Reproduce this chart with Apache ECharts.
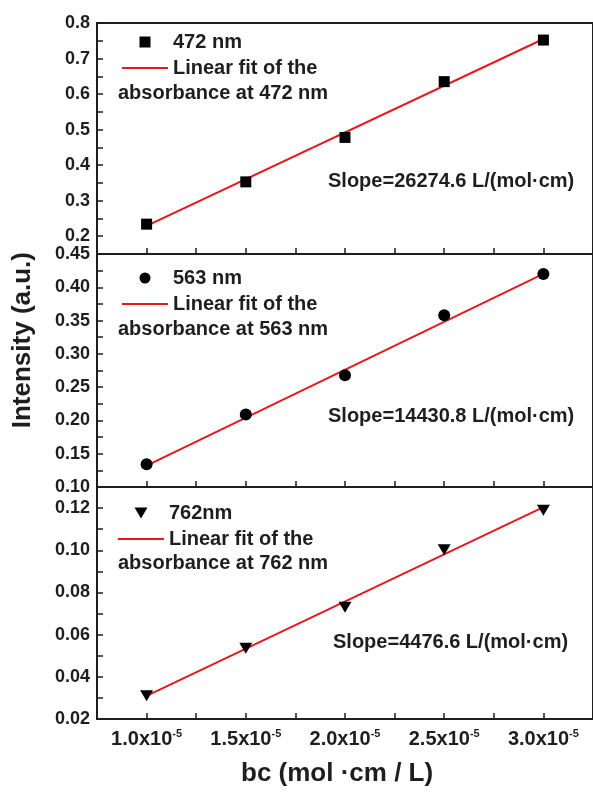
<!DOCTYPE html>
<html>
<head>
<meta charset="utf-8">
<script src="https://cdn.jsdelivr.net/npm/echarts@6/dist/echarts.min.js"></script>
<style>
    html, body { margin: 0; padding: 0; background: #fff; }
    #chart { width: 593px; height: 792px; }
</style>
</head>
<body>
<div id="chart"></div>
<script>
// bc values (mol·cm/L)
const bc = [1.0e-5, 1.5e-5, 2.0e-5, 2.5e-5, 3.0e-5];
const bcTicks = [1.0e-5, 1.5e-5, 2.0e-5, 2.5e-5, 3.0e-5];

// absorbance
const abs472 = [0.234, 0.353, 0.478, 0.635, 0.752];
const abs563 = [0.134, 0.209, 0.268, 0.358, 0.420];
const abs762 = [0.031, 0.0535, 0.073, 0.1003, 0.119];

// linear fit, value at first and last bc
const fit472 = [0.229, 0.755];
const fit563 = [0.132, 0.420];
const fit762 = [0.031, 0.1205];

const slopes = ['26274.6', '14430.8', '4476.6'];

// y tick labels
const ticks472 = [0.2, 0.3, 0.4, 0.5, 0.6, 0.7, 0.8];
const ticks563 = [0.10, 0.15, 0.20, 0.25, 0.30, 0.35, 0.40, 0.45];
const ticks762 = [0.02, 0.04, 0.06, 0.08, 0.10, 0.12];

const FONT = 'Arial, "Liberation Sans", sans-serif';
const INK = '#1e1e1e';
const RED = '#e3191f';
const SQUARE = 'path://M0,0L10,0L10,10L0,10Z';
const TRI_DOWN = 'path://M0,0L20,0L10,17Z';
const LINE_ICON = 'path://M0,0L46,0L46,2L0,2Z';

const panels = [
    {
        wl: '472 nm', fitWl: '472 nm', data: abs472, fit: fit472, ticks: ticks472, dec: 1,
        min: 0.15, max: 0.8, step: 0.05, top: 23, height: 231,
        symbol: SQUARE, size: 11, legendTop: 27, legendLeft: 117, absTop: 83, slope: slopes[0], slopeX: 328, slopeY: 171
    },
    {
        wl: '563 nm', fitWl: '563 nm', data: abs563, fit: fit563, ticks: ticks563, dec: 2,
        min: 0.10, max: 0.45, step: 0.025, top: 254, height: 233,
        symbol: 'circle', size: 12, legendTop: 263, legendLeft: 117, absTop: 319, slope: slopes[1], slopeX: 328, slopeY: 406
    },
    {
        wl: '762nm', fitWl: '762 nm', data: abs762, fit: fit762, ticks: ticks762, dec: 2,
        min: 0.02, max: 0.13, step: 0.01, top: 487, height: 232,
        symbol: TRI_DOWN, size: [13, 11], legendTop: 498, legendLeft: 113, absTop: 553, slope: slopes[2], slopeX: 333, slopeY: 632
    }
];

const grid = [], xAxis = [], yAxis = [], series = [], legend = [], graphic = [];

panels.forEach((p, i) => {
    const last = i === panels.length - 1;
    grid.push({
        left: 97, right: -4, top: p.top, height: p.height,
        show: true, borderColor: INK, borderWidth: 2, backgroundColor: 'transparent'
    });
    xAxis.push({
        type: 'value', gridIndex: i,
        min: 0.75e-5, max: 3.25e-5, interval: 0.25e-5,
        axisLine: { lineStyle: { color: INK, width: 2 } },
        axisTick: { inside: true, length: 6, lineStyle: { color: INK, width: 1.5 } },
        splitLine: { show: false },
        axisLabel: {
            show: last,
            customValues: bcTicks,
            margin: 9,
            formatter: v => '{a|' + (v * 1e5).toFixed(1) + 'x10}{s|-5}',
            rich: {
                a: { fontFamily: FONT, fontWeight: 'bold', fontSize: 20, color: INK },
                s: { fontFamily: FONT, fontWeight: 'bold', fontSize: 11, color: INK, padding: [0, 0, 12, 0] }
            }
        }
    });
    yAxis.push({
        type: 'value', gridIndex: i,
        min: p.min, max: p.max, interval: p.step,
        axisLine: { show: true, lineStyle: { color: INK, width: 2 } },
        axisTick: { show: true, inside: true, length: 6, lineStyle: { color: INK, width: 1.5 } },
        splitLine: { show: false },
        axisLabel: {
            customValues: p.ticks,
            margin: 7,
            fontFamily: FONT, fontWeight: 'bold', fontSize: 18, color: INK,
            formatter: v => v.toFixed(p.dec)
        }
    });
    const fitName = 'Linear fit of the absorbance at ' + p.fitWl;
    series.push({
        name: p.wl, type: 'scatter', xAxisIndex: i, yAxisIndex: i,
        symbol: p.symbol, symbolSize: p.size,
        itemStyle: { color: '#000', opacity: 1 },
        data: bc.map((x, k) => [x, p.data[k]]),
        z: 3
    });
    series.push({
        name: fitName, type: 'line', xAxisIndex: i, yAxisIndex: i,
        symbol: 'none', lineStyle: { color: RED, width: 2 },
        itemStyle: { color: RED },
        data: [[bc[0], p.fit[0]], [bc[bc.length - 1], p.fit[1]]],
        z: 2
    });
    legend.push({
        orient: 'vertical', left: p.legendLeft, top: p.legendTop,
        itemWidth: 46, itemHeight: 11, itemGap: 6,
        data: [
            { name: p.wl, icon: p.symbol },
            { name: fitName, icon: LINE_ICON }
        ],
        formatter: name => name.startsWith('Linear') ? 'Linear fit of the' : name,
        textStyle: { fontFamily: FONT, fontWeight: 'bold', fontSize: 20, color: INK, lineHeight: 20 },
        selectedMode: false
    });
    graphic.push({
        type: 'text', left: 118, top: p.absTop,
        style: { text: 'absorbance at ' + p.fitWl, font: 'bold 20px ' + FONT, fill: INK }
    });
    graphic.push({
        type: 'text', left: p.slopeX, top: p.slopeY,
        style: { text: 'Slope=' + p.slope + ' L/(mol·cm)', font: 'bold 20px ' + FONT, fill: INK }
    });
});

// axis titles
graphic.push({
    type: 'text', left: 10, top: 252, rotation: Math.PI / 2,
    style: { text: 'Intensity (a.u.)', font: 'bold 26px ' + FONT, fill: INK }
});
graphic.push({
    type: 'text', left: 241, top: 761,
    style: { text: 'bc (mol ·cm / L)', font: 'bold 26px ' + FONT, fill: INK }
});

const chart = echarts.init(document.getElementById('chart'));
chart.setOption({
    animation: false,
    backgroundColor: '#fff',
    grid, xAxis, yAxis, series, legend, graphic
});
</script>
</body>
</html>
